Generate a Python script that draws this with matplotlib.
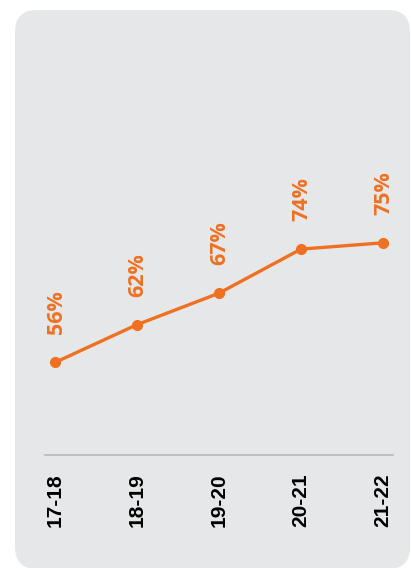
import matplotlib
matplotlib.use('Agg')
import matplotlib.pyplot as plt
from matplotlib.patches import FancyBboxPatch

# Data
years = ['17-18', '18-19', '19-20', '20-21', '21-22']
rates = [56, 62, 67, 74, 75]

orange = '#f07022'
panel = '#e6e7e8'

W, H = 411, 568
fig = plt.figure(figsize=(W / 100, H / 100), dpi=100)
fig.patch.set_facecolor('white')

# Grey rounded card behind the chart
card = FancyBboxPatch((0.15, -0.01), 3.95, 5.59,
                      boxstyle='round,pad=0,rounding_size=0.22',
                      transform=fig.dpi_scale_trans,
                      facecolor=panel, edgecolor='none', zorder=-1)
fig.patches.append(card)

# Axes placed in pixel terms: left 45, right 393, bottom line at y=455, top at y=30
left, right, bottom, top = 45, 393, 455, 30
ax = fig.add_axes([left / W, 1 - bottom / H, (right - left) / W, (bottom - top) / H])
ax.set_facecolor('none')

x = list(range(len(years)))
ax.plot(x, rates, color=orange, linewidth=2.4, marker='o', markersize=7, zorder=3)

for xi, v in zip(x, rates):
    ax.annotate(f'{v}%', (xi, v), xytext=(1, 28), textcoords='offset pixels',
                rotation=90, ha='center', va='bottom', color=orange,
                fontsize=15.5, fontweight='bold', family='Open Sans')

ax.set_xlim(-0.122, 4.122)
ax.set_ylim(41.3, 108.8)

ax.set_xticks(x)
ax.set_xticklabels(years, rotation=90, fontsize=15, fontweight='bold',
                   family='Liberation Sans', color='black', va='top')
ax.tick_params(axis='x', length=0, pad=13)
ax.set_yticks([])

for side in ['top', 'right', 'left']:
    ax.spines[side].set_visible(False)
ax.spines['bottom'].set_color('#b9b9b9')
ax.spines['bottom'].set_linewidth(1.2)

fig.savefig('out.png', dpi=100)
